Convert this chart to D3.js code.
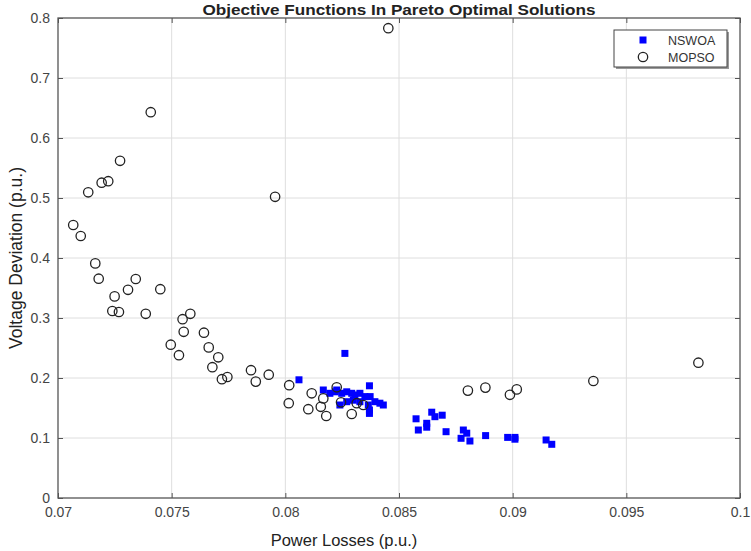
<!DOCTYPE html>
<html><head><meta charset="utf-8">
<script src="https://cdn.jsdelivr.net/npm/d3@7"></script>
<style>body{margin:0;background:#fff}svg{display:block}text{font-family:"Liberation Sans",Arial,sans-serif}</style>
</head><body><svg id="c" width="751" height="551"></svg>
<script>
const title = "Objective Functions In Pareto Optimal Solutions";
const xLabel = "Power Losses (p.u.)";
const yLabel = "Voltage Deviation (p.u.)";
const seriesNames = ["NSWOA", "MOPSO"];
const xTicks = [0.07, 0.075, 0.08, 0.085, 0.09, 0.095, 0.1];
const xTickLabels = ["0.07", "0.075", "0.08", "0.085", "0.09", "0.095", "0.1"];
const yTicks = [0, 0.1, 0.2, 0.3, 0.4, 0.5, 0.6, 0.7, 0.8];
const yTickLabels = ["0", "0.1", "0.2", "0.3", "0.4", "0.5", "0.6", "0.7", "0.8"];

const nswoaX = [0.08262, 0.0806, 0.08167, 0.0837, 0.08196, 0.08219, 0.08248, 0.0827, 0.08292, 0.08306, 0.08328, 0.0835, 0.08373, 0.08394, 0.08416, 0.08431, 0.08365, 0.0837, 0.0837, 0.0824, 0.0827, 0.08299, 0.08328, 0.08226,
  0.08575, 0.08644, 0.08658, 0.0869, 0.08585, 0.08622, 0.08622, 0.08707, 0.08783, 0.08798, 0.08773, 0.08812, 0.08881, 0.08978, 0.0901, 0.0901, 0.09147, 0.09172];
const nswoaY = [0.241, 0.197, 0.18, 0.187, 0.1745, 0.177, 0.1745, 0.177, 0.1745, 0.1717, 0.1745, 0.169, 0.169, 0.1605, 0.158, 0.155, 0.155, 0.1467, 0.141, 0.155, 0.1605, 0.163, 0.1605, 0.18,
  0.132, 0.143, 0.1355, 0.138, 0.1133, 0.118, 0.1245, 0.1105, 0.1133, 0.108, 0.0995, 0.095, 0.104, 0.101, 0.101, 0.098, 0.0967, 0.0895];

const mopsoX = [0.08453, 0.07408, 0.07273, 0.07221, 0.07192, 0.07133, 0.07955, 0.07067, 0.0710, 0.07164, 0.07179, 0.07342, 0.07308, 0.0745, 0.07249, 0.07239, 0.07268, 0.07386,
  0.07582, 0.07548, 0.07553, 0.07642, 0.07496, 0.07663, 0.07532, 0.07705, 0.07679, 0.07745, 0.07721, 0.07849, 0.0787, 0.07927,
  0.08017, 0.08015, 0.08116, 0.08101, 0.08167, 0.08156, 0.0818, 0.08226, 0.08245, 0.08314, 0.08343, 0.08292,
  0.08803, 0.0888, 0.08988, 0.09018, 0.09355, 0.09817];
const mopsoY = [0.783, 0.643, 0.562, 0.528, 0.5255, 0.5095, 0.502, 0.455, 0.4367, 0.391, 0.3655, 0.365, 0.347, 0.348, 0.336, 0.3117, 0.31, 0.307,
  0.307, 0.298, 0.277, 0.2755, 0.2555, 0.251, 0.238, 0.2345, 0.218, 0.2017, 0.198, 0.213, 0.194, 0.2055,
  0.188, 0.158, 0.1745, 0.148, 0.166, 0.152, 0.1367, 0.1845, 0.1595, 0.158, 0.155, 0.14,
  0.179, 0.184, 0.172, 0.181, 0.195, 0.2255];

const L = 58, R = 740, T = 18, B = 498;
const svg = d3.select("#c");
const x = d3.scaleLinear().domain([0.07, 0.1]).range([L, R]);
const y = d3.scaleLinear().domain([0, 0.8]).range([B, T]);

// grid
const g = svg.append("g");
g.selectAll(".gx").data(xTicks.slice(1, -1)).join("line")
  .attr("x1", d => x(d)).attr("x2", d => x(d)).attr("y1", T).attr("y2", B)
  .attr("stroke", "#dedede").attr("stroke-width", 1);
g.selectAll(".gy").data(yTicks.slice(1, -1)).join("line")
  .attr("y1", d => y(d)).attr("y2", d => y(d)).attr("x1", L).attr("x2", R)
  .attr("stroke", "#dedede").attr("stroke-width", 1);

// axes (ticks inward on all sides)
const axCol = "#555";
function styleAxis(sel) {
  sel.select(".domain").remove();
  sel.selectAll(".tick line").attr("stroke", axCol);
  sel.selectAll(".tick text").attr("fill", "#444").style("font-size", "14px");
}
svg.append("g").attr("transform", `translate(0,${B})`)
  .call(d3.axisBottom(x).tickValues(xTicks).tickFormat((d, i) => xTickLabels[i]).tickSizeInner(-5).tickPadding(9))
  .call(styleAxis);
svg.append("g").attr("transform", `translate(0,${T})`)
  .call(d3.axisTop(x).tickValues(xTicks).tickFormat("").tickSizeInner(-5))
  .call(styleAxis);
svg.append("g").attr("transform", `translate(${L},0)`)
  .call(d3.axisLeft(y).tickValues(yTicks).tickFormat((d, i) => yTickLabels[i]).tickSizeInner(-5).tickPadding(8))
  .call(styleAxis);
svg.append("g").attr("transform", `translate(${R},0)`)
  .call(d3.axisRight(y).tickValues(yTicks).tickFormat("").tickSizeInner(-5))
  .call(styleAxis);
svg.append("rect").attr("x", L).attr("y", T).attr("width", R - L).attr("height", B - T)
  .attr("fill", "none").attr("stroke", axCol).attr("stroke-width", 1.3);

// data
const nsw = nswoaX.map((v, i) => [v, nswoaY[i]]);
const mop = mopsoX.map((v, i) => [v, mopsoY[i]]);
const sq = 7;
svg.append("g").selectAll("rect").data(nsw).join("rect")
  .attr("x", d => x(d[0]) - sq / 2).attr("y", d => y(d[1]) - sq / 2)
  .attr("width", sq).attr("height", sq).attr("fill", "#0000ff");
svg.append("g").selectAll("circle").data(mop).join("circle")
  .attr("cx", d => x(d[0])).attr("cy", d => y(d[1])).attr("r", 4.7)
  .attr("fill", "none").attr("stroke", "#222").attr("stroke-width", 1.3);

// legend
const lg = svg.append("g");
lg.append("rect").attr("x", 616).attr("y", 32).attr("width", 113).attr("height", 37).attr("fill", "#999");
lg.append("rect").attr("x", 614).attr("y", 30).attr("width", 113).attr("height", 37)
  .attr("fill", "#fff").attr("stroke", "#444").attr("stroke-width", 1);
lg.append("rect").attr("x", 643 - 3.5).attr("y", 40 - 3.5).attr("width", 7).attr("height", 7).attr("fill", "#0000ff");
lg.append("circle").attr("cx", 643).attr("cy", 57).attr("r", 4.7).attr("fill", "none").attr("stroke", "#222").attr("stroke-width", 1.3);
lg.selectAll("text").data(seriesNames).join("text")
  .attr("x", 668).attr("y", (d, i) => 44.5 + i * 17).text(d => d)
  .style("font-size", "12.5px").attr("fill", "#333");

// titles
svg.append("text").attr("x", 399).attr("y", 15).attr("text-anchor", "middle")
  .attr("textLength", 393).attr("lengthAdjust", "spacingAndGlyphs")
  .style("font-size", "15px").style("font-weight", "bold").attr("fill", "#222").text(title);
svg.append("text").attr("x", 344).attr("y", 546).attr("text-anchor", "middle")
  .style("font-size", "16.5px").attr("fill", "#222").text(xLabel);
svg.append("text").attr("transform", "translate(22,258) rotate(-90)").attr("text-anchor", "middle")
  .style("font-size", "17.5px").attr("fill", "#222").text(yLabel);
</script></body></html>
